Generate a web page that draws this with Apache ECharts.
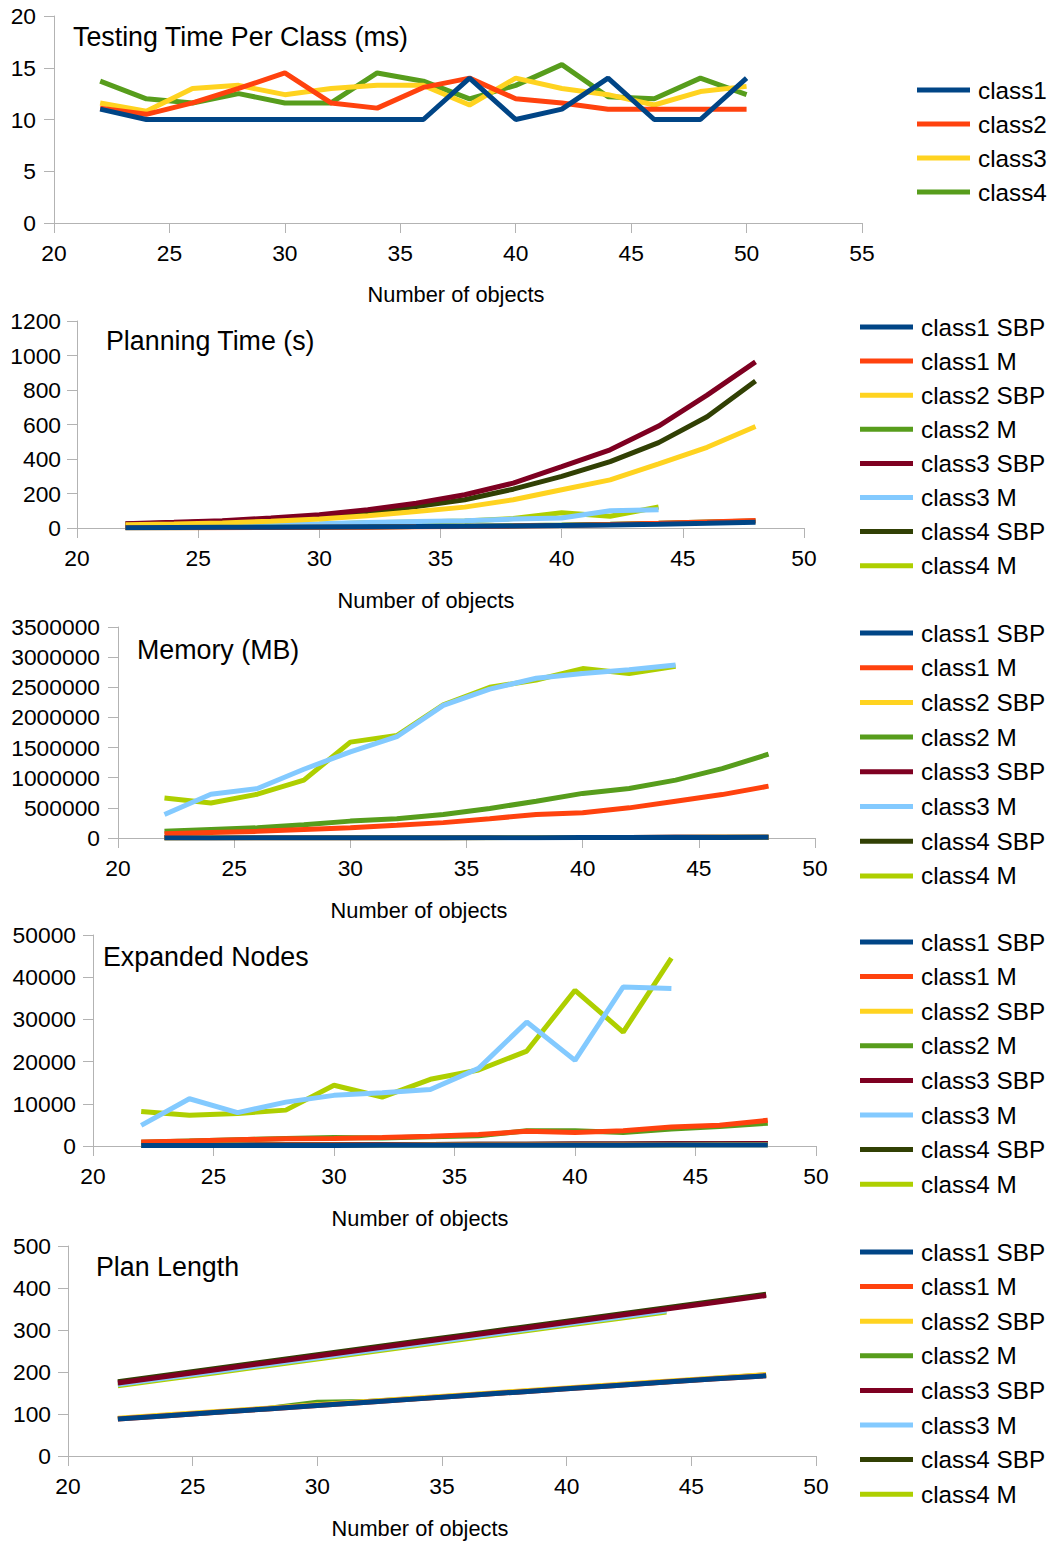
<!DOCTYPE html>
<html>
<head>
<meta charset="utf-8">
<script src="https://cdn.jsdelivr.net/npm/echarts@6/dist/echarts.min.js"></script>
<style>
html,body{margin:0;padding:0;background:#fff;}
#main{width:1051px;height:1541px;}
</style>
</head>
<body>
<div id="main"></div>
<script>
// ---------- DATA ----------
const xTesting = [22,24,26,28,30,32,34,36,38,40,42,44,46,48,50];
const testClass1 = [11,10,10,10,10,10,10,10,14,10,11,14,10,10,14];
const testClass2 = [11.1,10.5,11.6,13,14.5,11.6,11.1,13.1,14,12,11.6,11,11,11,11];
const testClass3 = [11.6,10.8,13,13.3,12.4,13,13.3,13.3,11.4,14,13,12.4,11.4,12.7,13.2];
const testClass4 = [13.7,12,11.6,12.5,11.6,11.6,14.5,13.7,12,13.3,15.3,12.2,12,14,12.4];

const xObjects = [22,24,26,28,30,32,34,36,38,40,42,44,46,48];

const planC1SBP = [2,3,4,5,6,7,8,10,12,15,18,22,27,33];
const planC1M   = [1,2,2,3,4,5,7,9,11,15,20,27,35,43];
const planC2SBP = [19,23,29,39,52,71,96,121,164,222,279,372,468,588];
const planC2M   = [1,2,3,4,5,6,8,10,13,17,22,28,35,40];
const planC3SBP = [25,33,42,58,77,106,144,193,260,356,453,591,770,963];
const planC3M   = [5,8,12,17,24,32,38,42,52,58,100,106];
const planC4SBP = [23,29,39,52,67,90,125,164,225,299,385,495,645,852];
const planC4M   = [5,8,11,16,22,30,35,40,55,88,68,122];

const memC1SBP = [1500,2000,2500,3000,3500,4000,4500,5000,6000,7000,8000,9000,10000,11000];
const memC1M   = [70000,90000,110000,140000,170000,210000,255000,320000,390000,420000,500000,610000,720000,860000];
const memC2SBP = [2000,2500,3000,3500,4000,4500,5000,6000,7000,8000,9000,10000,11000,12000];
const memC2M   = [110000,140000,170000,220000,280000,320000,390000,490000,610000,740000,820000,960000,1150000,1390000];
const memC3SBP = [2500,3000,3500,4000,4500,5000,6000,7000,8000,9000,10000,11000,12000,13000];
const memC3M   = [390000,727000,820000,1140000,1430000,1680000,2200000,2470000,2650000,2730000,2790000,2870000];
const memC4SBP = [2500,3000,3500,4000,4500,5000,6000,7000,8000,9000,10000,11000,12000,13000];
const memC4M   = [665000,580000,727000,960000,1590000,1700000,2210000,2500000,2620000,2810000,2730000,2850000];

const expC1SBP = [100,110,120,130,140,150,160,170,180,190,200,210,220,230];
const expC1M   = [950,1200,1500,1700,1750,2000,2300,2700,3500,3200,3600,4500,4900,6100];
const expC2SBP = [150,160,170,180,190,200,210,220,230,240,250,260,270,280];
const expC2M   = [900,1200,1500,1800,2000,1900,2200,2400,3600,3600,3200,4000,4600,5400];
const expC3SBP = [200,230,260,290,320,350,380,410,440,470,500,530,560,600];
const expC3M   = [4900,11200,7900,10400,12000,12600,13400,18400,29400,20300,37700,37300];
const expC4SBP = [180,210,240,270,300,330,360,390,420,450,480,510,540,570];
const expC4M   = [8200,7300,7700,8500,14400,11600,15800,18000,22500,36900,27000,44500];

const lenC1SBP = [88,96,104,112,120,128,136,144,152,160,168,176,184,191];
const lenC1M   = [88,96,104,112,120,128,136,144,152,160,168,176,184,191];
const lenC2SBP = [90,98,106,114,122,130,138,146,154,162,170,178,186,194];
const lenC2M   = [89,97,105,113,128,130,137,145,153,161,169,177,185,193];
const lenC3SBP = [174,190,206,222,238,254,270,286,302,318,334,350,366,382];
const lenC3M   = [170,186,202,218,234,250,266,282,298,314,330,346];
const lenC4SBP = [177,193,209,225,241,257,273,289,305,321,337,353,369,385];
const lenC4M   = [167,183,199,215,231,247,263,279,295,311,327,343];

const testNames = ['class1','class2','class3','class4'];
const classNames = ['class1 SBP','class1 M','class2 SBP','class2 M','class3 SBP','class3 M','class4 SBP','class4 M'];
const chartTitles = ['Testing Time Per Class (ms)','Planning Time (s)','Memory (MB)','Expanded Nodes','Plan Length'];
const xAxisTitle = 'Number of objects';
const yMax = [20,1200,3500000,50000,500];
const yStep = [5,200,500000,10000,100];
const xMax = [55,50,50,50,50];

// ---------- STYLE / LAYOUT ----------
const COLORS = ['#004586','#ff420e','#ffd320','#579d1c','#7e0021','#83caff','#314004','#aecf00'];
const FONT = '"Liberation Sans", Arial, sans-serif';
const grids = [
  {left:54, top:16, width:808, height:207},
  {left:77, top:321, width:727, height:207},
  {left:118, top:627, width:697, height:211},
  {left:93, top:935, width:723, height:211},
  {left:68, top:1246, width:748, height:210}
];
const yLabelMargin = [18,16,18,17,17];
const titlePos = [[73,37],[106,341],[137,650],[103,957],[96,1267]];
const axisNamePos = [[456,294],[426,600],[419,910],[420,1218],[420,1528]];
const legendPos = [[917,78,10],[860,315,10.1],[860,621,10.7],[860,930,10.6],[860,1240,10.6]];

function pairs(xs, ys){ return ys.map((v,i)=>[xs[i], v]); }

const chartSets = [
  {names:testNames, data:[testClass1,testClass2,testClass3,testClass4], xs:xTesting},
  {names:classNames, data:[planC1SBP,planC1M,planC2SBP,planC2M,planC3SBP,planC3M,planC4SBP,planC4M], xs:xObjects},
  {names:classNames, data:[memC1SBP,memC1M,memC2SBP,memC2M,memC3SBP,memC3M,memC4SBP,memC4M], xs:xObjects},
  {names:classNames, data:[expC1SBP,expC1M,expC2SBP,expC2M,expC3SBP,expC3M,expC4SBP,expC4M], xs:xObjects},
  {names:classNames, data:[lenC1SBP,lenC1M,lenC2SBP,lenC2M,lenC3SBP,lenC3M,lenC4SBP,lenC4M], xs:xObjects}
];

const axisLineStyle = {color:'#b3b3b3', width:1};
const plain = v => String(v);
const xAxes = [], yAxes = [], series = [], legends = [], graphics = [];

chartSets.forEach((set, gi) => {
  xAxes.push({
    type:'value', gridIndex:gi, min:20, max:xMax[gi], interval:5,
    axisLine:{show:true, onZero:false, lineStyle:axisLineStyle},
    axisTick:{show:true, length:10, lineStyle:axisLineStyle},
    axisLabel:{color:'#000', fontSize:22.8, fontFamily:FONT, margin:18, formatter:plain},
    splitLine:{show:false}
  });
  yAxes.push({
    type:'value', gridIndex:gi, min:0, max:yMax[gi], interval:yStep[gi],
    axisLine:{show:true, lineStyle:axisLineStyle},
    axisTick:{show:true, length:10, lineStyle:axisLineStyle},
    axisLabel:{color:'#000', fontSize:22.8, fontFamily:FONT, margin:yLabelMargin[gi], formatter:plain},
    splitLine:{show:false}
  });
  set.data.forEach((vals, si) => {
    series.push({
      type:'line', name:set.names[si], xAxisIndex:gi, yAxisIndex:gi,
      data:pairs(set.xs, vals), showSymbol:false, symbol:'none',
      lineStyle:{width:5, color:COLORS[si]}, itemStyle:{color:COLORS[si]},
      z: 20 - si, silent:true
    });
  });
  legends.push({
    orient:'vertical', left:legendPos[gi][0], top:legendPos[gi][1], padding:0,
    itemWidth:53, itemHeight:5, itemGap:legendPos[gi][2], icon:'rect',
    selectedMode:false, data:set.names.slice(),
    textStyle:{fontSize:24.3, fontFamily:FONT, color:'#000', lineHeight:24, padding:[0,0,0,3]}
  });
  graphics.push({
    type:'text', x:titlePos[gi][0], y:titlePos[gi][1], z:50,
    style:{text:chartTitles[gi], fontSize:26.8, fontFamily:FONT, fill:'#000', textAlign:'left', textVerticalAlign:'middle'}
  });
  graphics.push({
    type:'text', x:axisNamePos[gi][0], y:axisNamePos[gi][1], z:50,
    style:{text:xAxisTitle, fontSize:21.8, fontFamily:FONT, fill:'#000', textAlign:'center', textVerticalAlign:'middle'}
  });
});

const chart = echarts.init(document.getElementById('main'), null, {renderer:'svg'});
chart.setOption({
  animation:false,
  backgroundColor:'#ffffff',
  grid:grids,
  xAxis:xAxes,
  yAxis:yAxes,
  legend:legends,
  graphic:graphics,
  series:series
});
</script>
</body>
</html>
